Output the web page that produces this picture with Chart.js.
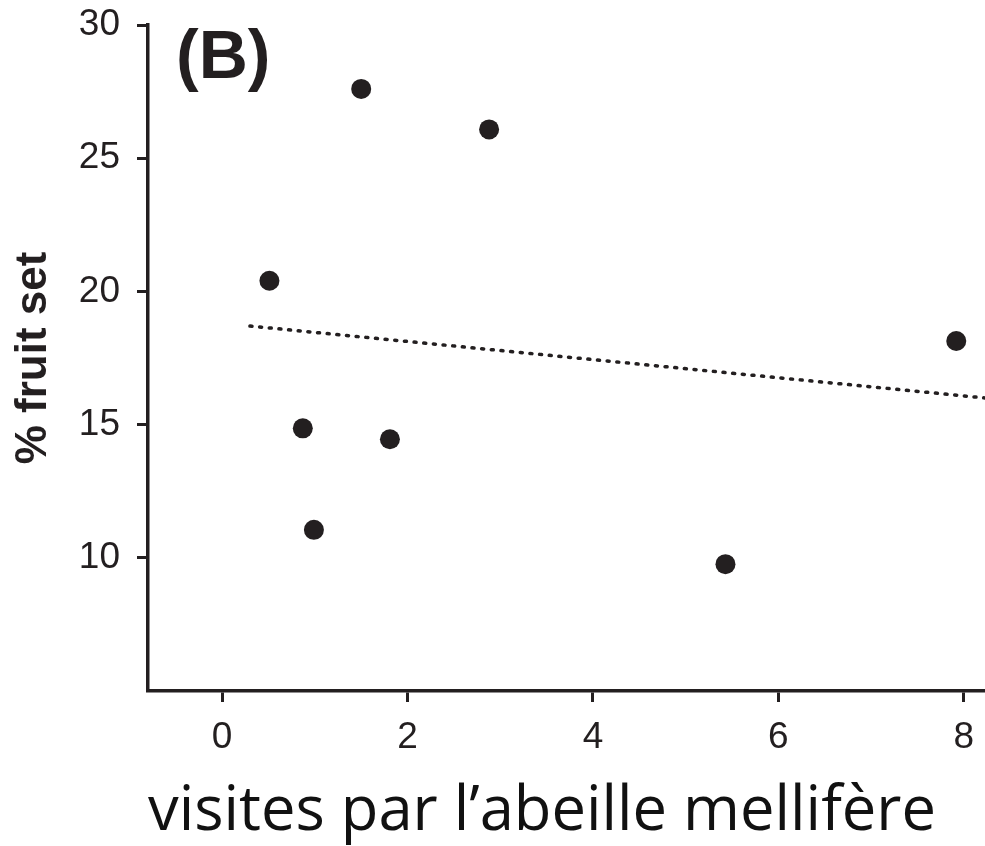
<!DOCTYPE html>
<html>
<head>
<meta charset="utf-8">
<script src="https://cdn.jsdelivr.net/npm/chart.js@4"></script>
<style>
  html, body { margin: 0; padding: 0; background: #fff; }
</style>
</head>
<body>
<canvas id="myChart" width="985" height="846"></canvas>
<script>
// data
let visits   = [0.51, 0.87, 0.99, 1.50, 1.81, 2.88, 5.43, 7.92];
let fruitSet = [20.4, 14.86, 11.05, 27.6, 14.45, 26.08, 9.76, 18.14];
let trendX   = [0.30, 8.23];
let trendY   = [18.7, 16.0];
let xTicks   = [0, 2, 4, 6, 8];
let yTicks   = [10, 15, 20, 25, 30];

let ink = '#231f20';

let points = visits.map((v, i) => ({x: v, y: fruitSet[i]}));
let trend  = trendX.map((v, i) => ({x: v, y: trendY[i]}));

// panel letter in the top left corner of the plot
let panelLabel = {
    id: 'panelLabel',
    afterDraw(chart) {
        let ctx = chart.ctx;
        let area = chart.chartArea;
        ctx.save();
        ctx.fillStyle = ink;
        ctx.font = 'bold 68px "Liberation Sans", Arial, sans-serif';
        ctx.textAlign = 'left';
        ctx.textBaseline = 'alphabetic';
        ctx.fillText('(B)', area.left + 28, area.top + 53);
        ctx.restore();
    }
};

let ctx = document.getElementById('myChart').getContext('2d');

let chart = new Chart(ctx, {
    type: 'scatter',
    data: {
        datasets: [{
            data: points,
            backgroundColor: ink,
            borderColor: ink,
            pointRadius: 10,
            pointHoverRadius: 10,
            borderWidth: 0
        },
        {
            type: 'line',
            data: trend,
            borderColor: ink,
            borderWidth: 3.5,
            borderDash: [2, 7.7],
            borderCapStyle: 'round',
            pointRadius: 0,
            fill: false
        }]
    },
    options: {
        responsive: false,
        animation: false,
        layout: { autoPadding: false, padding: { top: 25, right: 0, left: 0, bottom: 0 } },
        plugins: {
            legend: { display: false },
            tooltip: { enabled: false }
        },
        scales: {
            x: {
                type: 'linear',
                min: -0.8,
                max: 8.23,
                afterBuildTicks: s => { s.ticks = xTicks.map(v => ({value: v})); },
                afterFit: s => { s.height = 155; s.paddingLeft = 0; s.paddingRight = 0; },
                grid: { drawOnChartArea: false, drawTicks: true, tickLength: 11, tickWidth: 3, tickColor: ink },
                border: { display: true, color: ink, width: 3.5 },
                ticks: {
                    color: ink,
                    padding: 14,
                    font: { family: '"Liberation Sans", Arial, sans-serif', size: 37 }
                },
                title: {
                    display: true,
                    text: 'visites par l\u2019abeille mellifère',
                    align: 'start',
                    color: '#111',
                    padding: { top: 0, bottom: 3 },
                    font: { family: '"Open Sans", sans-serif', size: 61.5, lineHeight: 1 }
                }
            },
            y: {
                type: 'linear',
                min: 5,
                max: 30,
                afterBuildTicks: s => { s.ticks = yTicks.map(v => ({value: v})); },
                afterFit: s => { s.width = 148; s.paddingTop = 0; s.paddingBottom = 0; },
                grid: { drawOnChartArea: false, drawTicks: true, tickLength: 11, tickWidth: 3, tickColor: ink },
                border: { display: true, color: ink, width: 3.5 },
                ticks: {
                    color: ink,
                    padding: 17,
                    font: { family: '"Liberation Sans", Arial, sans-serif', size: 37 }
                },
                title: {
                    display: true,
                    text: '% fruit set',
                    color: ink,
                    padding: { top: 12, bottom: 0 },
                    font: { family: '"Liberation Sans", Arial, sans-serif', size: 44, weight: 'bold', lineHeight: 1 }
                }
            }
        }
    },
    plugins: [panelLabel]
});
</script>
</body>
</html>
